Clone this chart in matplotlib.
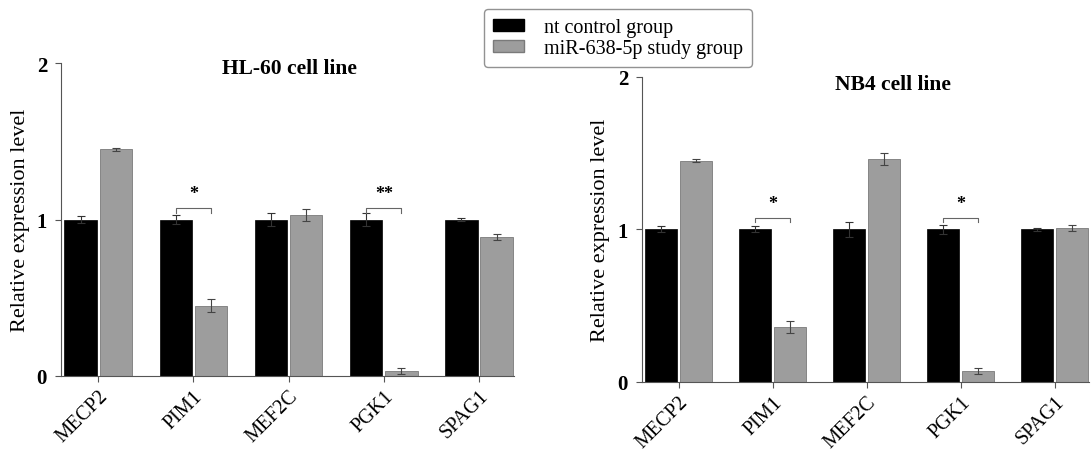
import numpy as np
import matplotlib
matplotlib.use("Agg")
from matplotlib import pyplot as plt
from matplotlib.patches import Patch

plt.rcParams['font.family'] = ['Liberation Serif', 'DejaVu Serif']

genes = ['MECP2', 'PIM1', 'MEF2C', 'PGK1', 'SPAG1']

hl60_ctrl = [1.0, 1.0, 1.0, 1.0, 1.0]
hl60_ctrl_err = [0.02, 0.03, 0.04, 0.04, 0.01]
hl60_mir = [1.45, 0.45, 1.03, 0.03, 0.89]
hl60_mir_err = [0.01, 0.04, 0.04, 0.02, 0.02]
hl60_sig = {1: '*', 3: '**'}

nb4_ctrl = [1.0, 1.0, 1.0, 1.0, 1.0]
nb4_ctrl_err = [0.02, 0.02, 0.05, 0.03, 0.01]
nb4_mir = [1.45, 0.36, 1.46, 0.07, 1.01]
nb4_mir_err = [0.01, 0.04, 0.04, 0.02, 0.02]
nb4_sig = {1: '*', 3: '*'}

BLACK = '#000000'
GRAY = '#9d9d9d'
AXC = '#555555'


def panel(ax, ctrl, ctrl_err, mir, mir_err, sig, title, title_x, title_y):
    x = np.arange(len(genes))
    w = 0.34
    off = 0.185
    ax.bar(x - off, ctrl, w, color=BLACK, edgecolor=BLACK, linewidth=0.5)
    ax.bar(x + off, mir, w, color=GRAY, edgecolor='#7a7a7a', linewidth=0.6)
    ax.errorbar(x - off, ctrl, yerr=ctrl_err, fmt='none', ecolor='#333333',
                elinewidth=0.8, capsize=3, capthick=0.8)
    ax.errorbar(x + off, mir, yerr=mir_err, fmt='none', ecolor='#444444',
                elinewidth=0.8, capsize=3, capthick=0.8)
    for i, s in sig.items():
        y = 1.075
        ax.plot([i - off, i - off, i + off, i + off], [y - 0.03, y, y, y - 0.03],
                color='#666666', lw=0.8)
        ax.text(i, y + 0.04, s, ha='center', va='bottom', fontsize=13,
                fontweight='bold')
    ax.set_xlim(-0.39, 4.37)
    ax.set_ylim(0, 2)
    ax.set_yticks([0, 1, 2])
    ax.set_yticklabels(['0', '1', '2'], fontsize=15, fontweight='bold')
    ax.set_xticks(x)
    ax.set_xticklabels(genes, rotation=45, ha='right', rotation_mode='anchor',
                       fontsize=14.5)
    ax.tick_params(axis='both', color=AXC, length=4, width=0.8)
    ax.tick_params(axis='y', pad=6)
    for sp in ['top', 'right']:
        ax.spines[sp].set_visible(False)
    for sp in ['left', 'bottom']:
        ax.spines[sp].set_color(AXC)
        ax.spines[sp].set_linewidth(0.8)
    ax.set_ylabel('Relative expression level', fontsize=16)
    ax.text(title_x, title_y, title, transform=ax.transAxes, ha='center',
            va='center', fontsize=15.5, fontweight='bold')


fig = plt.figure(figsize=(10.91, 4.52), dpi=100)
ax1 = fig.add_axes([0.0559, 0.166, 0.4155, 0.692])
ax2 = fig.add_axes([0.5884, 0.153, 0.4101, 0.675])

panel(ax1, hl60_ctrl, hl60_ctrl_err, hl60_mir, hl60_mir_err, hl60_sig,
      'HL-60 cell line', 0.505, 0.985)
panel(ax2, nb4_ctrl, nb4_ctrl_err, nb4_mir, nb4_mir_err, nb4_sig,
      'NB4 cell line', 0.56, 0.975)
ax1.yaxis.set_label_coords(-0.068, 0.5)
ax2.yaxis.set_label_coords(-0.072, 0.5)

handles = [Patch(facecolor=BLACK, edgecolor=BLACK),
           Patch(facecolor=GRAY, edgecolor='#7a7a7a')]
fig.legend(handles, ['nt control group', 'miR-638-5p study group'],
           loc='upper left', bbox_to_anchor=(0.4435, 0.978), fontsize=14.5,
           frameon=True, edgecolor='#777777', fancybox=True,
           handlelength=1.55, handleheight=0.55, borderpad=0.45,
           labelspacing=0.12, handletextpad=1.0, borderaxespad=0)

fig.savefig('out.png', dpi=100)
